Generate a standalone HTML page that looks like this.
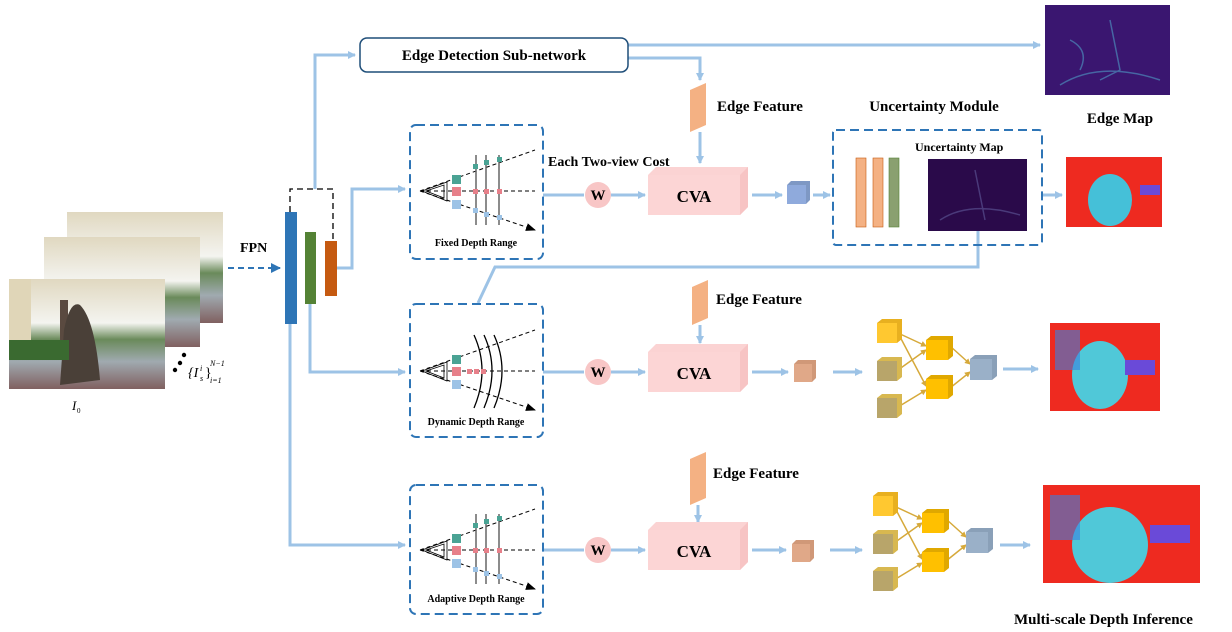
<!DOCTYPE html>
<html><head><meta charset="utf-8"><style>
html,body{margin:0;padding:0;background:#fff;}
svg{display:block;font-family:"Liberation Serif",serif;}
.b{font-weight:bold;}
</style></head><body>
<svg width="1232" height="632" viewBox="0 0 1232 632" xmlns="http://www.w3.org/2000/svg">
<defs>
<marker id="ab" markerWidth="8" markerHeight="8" refX="7" refY="4" orient="auto" markerUnits="userSpaceOnUse"><path d="M0,0 L8,4 L0,8z" fill="#9dc3e6"/></marker>
<marker id="ak" markerWidth="10" markerHeight="8" refX="9" refY="4" orient="auto" markerUnits="userSpaceOnUse"><path d="M0,0 L10,4 L0,8z" fill="#000"/></marker>
<marker id="ad" markerWidth="10" markerHeight="10" refX="9" refY="5" orient="auto" markerUnits="userSpaceOnUse"><path d="M0,0 L10,5 L0,10z" fill="#2e75b6"/></marker>
<marker id="ay" markerWidth="6" markerHeight="6" refX="5" refY="3" orient="auto" markerUnits="userSpaceOnUse"><path d="M0,0 L6,3 L0,6z" fill="#d6a93a"/></marker>
<linearGradient id="photo" x1="0" y1="0" x2="0" y2="1"><stop offset="0" stop-color="#e0d8c0"/><stop offset=".4" stop-color="#f4f4f0"/><stop offset=".55" stop-color="#6a8a5a"/><stop offset=".75" stop-color="#a0aab0"/><stop offset="1" stop-color="#806060"/></linearGradient>
<g id="rays">
<path d="M420,191 L535,150 M420,191 L535,191 M420,191 L535,230" stroke="#000" stroke-dasharray="4,3" fill="none" marker-end="url(#ak)"/>
<path d="M422,191 L447,182 L447,201 Z M426,191 L444,185 L444,198Z" stroke="#000" fill="none" stroke-width=".8"/>
<rect x="452" y="175" width="9" height="9" fill="#4aa394"/>
<rect x="452" y="187" width="9" height="9" fill="#e7808a"/>
<rect x="452" y="200" width="9" height="9" fill="#9dc3e6"/>
</g>
<g id="lines">
<path d="M476,155 V225 M486,155 V225 M499,155 V225" stroke="#666" stroke-width="1.5"/>
<rect x="473" y="164" width="5" height="5" fill="#4aa394"/><rect x="484" y="160" width="5" height="5" fill="#4aa394"/><rect x="497" y="157" width="5" height="5" fill="#4aa394"/>
<rect x="473" y="189" width="5" height="5" fill="#e7808a"/><rect x="484" y="189" width="5" height="5" fill="#e7808a"/><rect x="497" y="189" width="5" height="5" fill="#e7808a"/>
<rect x="473" y="208" width="5" height="5" fill="#9dc3e6"/><rect x="484" y="212" width="5" height="5" fill="#9dc3e6"/><rect x="497" y="215" width="5" height="5" fill="#9dc3e6"/>
</g>
<g id="cva"><path d="M648,175 L656,167 L748,167 L748,207 L740,215 Z" fill="#fbd3d3"/><rect x="648" y="175" width="92" height="40" fill="#fcd5d5"/><path d="M740,175 L748,167 L748,207 L740,215Z" fill="#f7c4c4"/><text x="694" y="202" text-anchor="middle" font-size="17" class="b">CVA</text></g>
</defs>

<rect x="67" y="212" width="156" height="111" fill="url(#photo)"/>
<rect x="44" y="237" width="156" height="110" fill="url(#photo)"/>
<rect x="9" y="279" width="156" height="110" fill="url(#photo)"/>
<rect x="9" y="279" width="22" height="80" fill="#e0d6b8"/><rect x="60" y="300" width="8" height="60" fill="#5a4a40"/>
<path d="M64,330 Q70,300 80,305 Q95,320 100,380 L60,385Z" fill="#4a4038"/>
<rect x="9" y="340" width="60" height="20" fill="#3a6a30"/>
<circle cx="175" cy="370" r="2.2"/><circle cx="180" cy="363" r="2.2"/><circle cx="184" cy="355" r="2.2"/>
<text x="188" y="377" font-size="14" font-style="italic">{I</text><text x="200" y="381" font-size="8" font-style="italic">s</text><text x="200" y="371" font-size="8" font-style="italic">i</text><text x="205" y="377" font-size="14">}</text><text x="210" y="366" font-size="8" font-style="italic">N−1</text><text x="210" y="383" font-size="8" font-style="italic">i=1</text>
<text x="72" y="410" font-size="13" font-style="italic">I</text><text x="77" y="413" font-size="7">0</text>

<text x="240" y="252" font-size="14" class="b">FPN</text>
<path d="M228,268 L280,268" stroke="#2e75b6" stroke-width="2" stroke-dasharray="6,4" marker-end="url(#ad)"/>

<g stroke="#9dc3e6" stroke-width="3" fill="none">
<path d="M315,189 V55 H355" marker-end="url(#ab)"/>
<path d="M628,45 H1040" marker-end="url(#ab)"/>
<path d="M628,58 H700 V80" marker-end="url(#ab)"/>
<path d="M700,132 V163" marker-end="url(#ab)"/>
<path d="M337,268 H352 V189 H405" marker-end="url(#ab)"/>
<path d="M543,195 H584"/><path d="M611,195 H645" marker-end="url(#ab)"/>
<path d="M752,195 H782" marker-end="url(#ab)"/><path d="M813,195 H830" marker-end="url(#ab)"/>
<path d="M1042,195 H1062" marker-end="url(#ab)"/>
<path d="M978,231 V267 H495 L478,303"/>
<path d="M310,304 V372 H405" marker-end="url(#ab)"/>
<path d="M700,325 V343" marker-end="url(#ab)"/>
<path d="M543,372 H584"/><path d="M611,372 H645" marker-end="url(#ab)"/>
<path d="M752,372 H788" marker-end="url(#ab)"/><path d="M833,372 H862" marker-end="url(#ab)"/>
<path d="M1003,369 H1038" marker-end="url(#ab)"/>
<path d="M290,324 V545 H405" marker-end="url(#ab)"/>
<path d="M698,505 V522" marker-end="url(#ab)"/>
<path d="M543,550 H584"/><path d="M611,550 H645" marker-end="url(#ab)"/>
<path d="M752,550 H786" marker-end="url(#ab)"/><path d="M830,550 H862" marker-end="url(#ab)"/>
<path d="M1000,545 H1030" marker-end="url(#ab)"/>
</g>

<path d="M290,212 V189 H333 V241" stroke="#000" stroke-width="1.3" stroke-dasharray="6,4" fill="none"/>
<rect x="285" y="212" width="12" height="112" fill="#2e75b6"/>
<rect x="305" y="232" width="11" height="72" fill="#548235"/>
<rect x="325" y="241" width="12" height="55" fill="#c55a11"/>

<rect x="360" y="38" width="268" height="34" rx="7" fill="#fff" stroke="#1f4e79" stroke-width="1.5"/>
<text x="494" y="60" text-anchor="middle" font-size="15" class="b">Edge Detection Sub-network</text>

<rect x="1045" y="5" width="125" height="90" fill="#3a1670"/>
<path d="M1060,85 Q1100,60 1160,80 M1110,20 L1120,70 L1100,80 M1070,40 Q1090,50 1080,70" stroke="#4a7ab0" stroke-width="1.5" fill="none" opacity=".8"/>
<text x="1120" y="123" text-anchor="middle" font-size="15" class="b">Edge Map</text>
<text x="934" y="111" text-anchor="middle" font-size="15" class="b">Uncertainty Module</text>

<path d="M690,90 L706,83 L706,125 L690,132Z" fill="#f4b183"/>
<path d="M692,287 L708,280 L708,318 L692,325Z" fill="#f4b183"/>
<path d="M690,459 L706,452 L706,498 L690,505Z" fill="#f4b183"/>
<text x="717" y="111" font-size="15" class="b">Edge Feature</text>
<text x="716" y="304" font-size="15" class="b">Edge Feature</text>
<text x="713" y="478" font-size="15" class="b">Edge Feature</text>

<g fill="none" stroke="#2e75b6" stroke-width="2" stroke-dasharray="9,5">
<rect x="410" y="125" width="133" height="134" rx="6"/>
<rect x="410" y="304" width="133" height="133" rx="6"/>
<rect x="410" y="485" width="133" height="129" rx="6"/>
<rect x="833" y="130" width="209" height="115" rx="3"/>
</g>
<use href="#rays"/><use href="#lines"/>
<use href="#rays" transform="translate(0,180)"/>
<path d="M474,335 Q490,370 474,408 M484,335 Q500,370 484,408 M494,335 Q510,370 494,408" stroke="#000" fill="none" stroke-width="1.3"/>
<rect x="467" y="369" width="5" height="5" fill="#e7808a"/><rect x="474" y="369" width="5" height="5" fill="#e7808a"/><rect x="481" y="369" width="5" height="5" fill="#e7808a"/>
<use href="#rays" transform="translate(0,359)"/><use href="#lines" transform="translate(0,359)"/>
<text x="476" y="246" text-anchor="middle" font-size="10" class="b">Fixed Depth Range</text>
<text x="476" y="425" text-anchor="middle" font-size="10" class="b">Dynamic Depth Range</text>
<text x="476" y="602" text-anchor="middle" font-size="10" class="b">Adaptive Depth Range</text>
<text x="548" y="166" font-size="14" class="b">Each Two-view Cost</text>

<g fill="#f8c6c6"><circle cx="598" cy="195" r="13"/><circle cx="598" cy="372" r="13"/><circle cx="598" cy="550" r="13"/></g>
<g font-size="15" class="b" text-anchor="middle"><text x="598" y="200">W</text><text x="598" y="377">W</text><text x="598" y="555">W</text></g>
<use href="#cva"/><use href="#cva" transform="translate(0,177)"/><use href="#cva" transform="translate(0,355)"/>

<rect x="787" y="185" width="19" height="19" fill="#8faadc"/><path d="M787,185 l4,-4 h19 l-4,4z M806,185 l4,-4 v19 l-4,4z" fill="#7e98c4"/>
<rect x="794" y="364" width="18" height="18" fill="#e0a888"/><path d="M794,364 l4,-4 h18 l-4,4z M812,364 l4,-4 v18 l-4,4z" fill="#d09878"/>
<rect x="792" y="544" width="18" height="18" fill="#e0a888"/><path d="M792,544 l4,-4 h18 l-4,4z M810,544 l4,-4 v18 l-4,4z" fill="#d09878"/>

<rect x="856" y="158" width="10" height="69" fill="#f4b183" stroke="#c55a11" stroke-width=".6"/>
<rect x="873" y="158" width="10" height="69" fill="#f4b183" stroke="#c55a11" stroke-width=".6"/>
<rect x="889" y="158" width="10" height="69" fill="#8aa070" stroke="#548235" stroke-width=".6"/>
<text x="915" y="151" font-size="12" class="b">Uncertainty Map</text>
<rect x="928" y="159" width="99" height="72" fill="#2a0a4a"/>
<path d="M940,220 Q970,200 1020,215 M975,170 L985,220" stroke="#4a3a7a" stroke-width="1.5" fill="none"/>

<rect x="1066" y="157" width="96" height="70" fill="#ee2a20"/><ellipse cx="1110" cy="200" rx="22" ry="26" fill="#45c0d8"/><rect x="1140" y="185" width="20" height="10" fill="#6a4ad8"/>
<rect x="1050" y="323" width="110" height="88" fill="#ee2a20"/><ellipse cx="1100" cy="375" rx="28" ry="34" fill="#50c8d8"/><rect x="1125" y="360" width="30" height="15" fill="#6a4ad8"/><rect x="1055" y="330" width="25" height="40" fill="#3a80e0" opacity=".6"/>
<rect x="1043" y="485" width="157" height="98" fill="#ee2a20"/><ellipse cx="1110" cy="545" rx="38" ry="38" fill="#50c8d8"/><rect x="1150" y="525" width="40" height="18" fill="#6a4ad8"/><rect x="1050" y="495" width="30" height="45" fill="#3a80e0" opacity=".6"/>
<text x="1014" y="624" font-size="15" class="b">Multi-scale Depth Inference</text>

<g id="net">
<g stroke="#d6a93a" stroke-width="1.5" marker-end="url(#ay)">
<path d="M898,333 L926,346"/><path d="M898,333 L926,386"/><path d="M898,370 L926,350"/><path d="M898,407 L926,390"/><path d="M950,346 L970,364"/><path d="M950,388 L970,372"/>
</g>
<rect x="877" y="323" width="20" height="20" fill="#ffc830"/><path d="M877,323 l5,-4 h20 l-5,4z M897,323 l5,-4 v20 l-5,4z" fill="#e8b020"/>
<rect x="877" y="361" width="20" height="20" fill="#b8a56a"/><path d="M877,361 l5,-4 h20 l-5,4z M897,361 l5,-4 v20 l-5,4z" fill="#d8b850"/>
<rect x="877" y="398" width="20" height="20" fill="#b8a56a"/><path d="M877,398 l5,-4 h20 l-5,4z M897,398 l5,-4 v20 l-5,4z" fill="#d8b850"/>
<rect x="926" y="340" width="22" height="20" fill="#ffc000"/><path d="M926,340 l5,-4 h22 l-5,4z M948,340 l5,-4 v20 l-5,4z" fill="#e0a800"/>
<rect x="926" y="379" width="22" height="20" fill="#ffc000"/><path d="M926,379 l5,-4 h22 l-5,4z M948,379 l5,-4 v20 l-5,4z" fill="#e0a800"/>
<rect x="970" y="359" width="22" height="21" fill="#9ab0c8"/><path d="M970,359 l5,-4 h22 l-5,4z M992,359 l5,-4 v21 l-5,4z" fill="#8aa0b8"/>
</g>
<use href="#net" transform="translate(-4,173)"/>
</svg>
</body></html>
